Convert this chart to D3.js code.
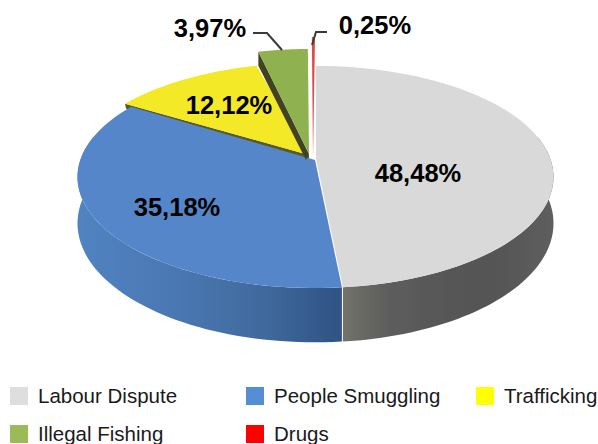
<!DOCTYPE html>
<html>
  <head>
    <meta charset="utf-8" />
    <script src="https://cdn.jsdelivr.net/npm/d3@7"></script>
    <style>
      html, body { margin: 0; padding: 0; background: #fff; }
      text { font-family: "Liberation Sans", Arial, sans-serif; fill: #000; }
      .pct { font-size: 25.5px; font-weight: bold; }
      .leg { font-size: 20.5px; fill: #1a1a1a; }
    </style>
  </head>
  <body>
    <div id="master"></div>
    <script type="text/javascript">
var categories = ["Labour Dispute", "People Smuggling", "Trafficking", "Illegal Fishing", "Drugs"];
var shares = [48.48, 35.18, 12.12, 3.97, 0.25];
var shareLabels = ["48,48%", "35,18%", "12,12%", "3,97%", "0,25%"];
var topColors = ["#d9d9d9", "#5586c9", "#f3e925", "#8fb150", "#e2474a"];
var legendColors = ["#dedede", "#558ed5", "#ffff00", "#9bbb59", "#ff0000"];

var width = 598, height = 444;
var svg = d3.select("#master").append("svg")
  .attr("width", width)
  .attr("height", height)
  .style("display", "block");

// layout of each slice: apex shift, rim shift (the small ones are pulled out)
var apexShift = [[3, 1], [2, 2], [-4, -3], [-4, -4], [0, 0]];
var rimShift = [[3, 0], [2, 0], [-4, -3], [-2, -17], [2, -29]];
var labelPos = [[418, 182], [177, 216], [229, 114], [210, 37], [375, 34]];
var legendPos = [[10, 387], [246, 387], [476, 387], [10, 425], [246, 425]];

// tilted disc, done as a simple perspective of a circle
var cx = 313, cy = 158, R = 234, k = 0.171, yScale = 107.8, depth = 45;

function project(a, shift) {
  var u = Math.sin(a), v = -Math.cos(a);
  var s = 1 / (1 - k * v);
  return [cx + shift[0] + R * u * s, cy + shift[1] + yScale * v * s];
}
function drop(p, a) {
  var s = 1 / (1 + k * Math.cos(a));
  return [p[0], p[1] + depth * s];
}
function rimPoints(a0, a1, shift) {
  return d3.range(0, 61).map(function(i) {
    return project(a0 + (a1 - a0) * i / 60, shift);
  });
}

var line = d3.line();
var pie = d3.pie().sort(null)(shares);

var defs = svg.append("defs");
defs.append("filter").attr("id", "soft")
  .append("feGaussianBlur").attr("stdDeviation", 0.6);

function wallGradient(id, stops) {
  var g = defs.append("linearGradient").attr("id", id)
    .attr("gradientUnits", "userSpaceOnUse")
    .attr("x1", 75).attr("x2", 555).attr("y1", 0).attr("y2", 0);
  stops.forEach(function(s) {
    g.append("stop").attr("offset", s[0]).attr("stop-color", s[1]);
  });
}
wallGradient("wallBlue", [[0, "#5283c2"], [0.2, "#4a78b3"], [0.38, "#416b9f"], [0.55, "#305384"]]);
wallGradient("wallGray", [[0.55, "#74736c"], [0.66, "#5c5c5c"], [0.85, "#545454"], [1, "#5e5e5e"]]);

var chart = svg.append("g").attr("filter", "url(#soft)");

// side walls, only the front half of the disc shows
[[1, "url(#wallBlue)"], [0, "url(#wallGray)"]].forEach(function(w) {
  var d = pie[w[0]];
  var a0 = Math.max(d.startAngle, Math.PI / 2 - 0.2);
  var a1 = Math.min(d.endAngle, Math.PI * 1.5 + 0.2);
  var top = rimPoints(a0, a1, rimShift[w[0]]);
  var bottom = top.map(function(p, i) {
    return drop(p, a0 + (a1 - a0) * i / 60);
  }).reverse();
  chart.append("path")
    .attr("d", line(top.concat(bottom)) + "Z")
    .attr("fill", w[1]);
});

// dark cut face under the yellow slice
var yellowEdge = project(pie[2].startAngle, rimShift[2]);
chart.append("path")
  .attr("d", line([
    yellowEdge,
    [yellowEdge[0] + 1, yellowEdge[1] + 5],
    [cx - 4, cy + 2],
    [cx - 4, cy - 3]
  ]) + "Z")
  .attr("fill", "#5c5a22");

var order = [1, 2, 3, 4, 0];
order.forEach(function(i) {
  var d = pie[i];
  var apex = [cx + apexShift[i][0], cy + apexShift[i][1]];
  var rim = rimPoints(d.startAngle, d.endAngle, rimShift[i]);

  // green slice shows its dark side
  if (i === 3) {
    chart.append("path")
      .attr("d", line([rim[0], [rim[0][0], rim[0][1] + 14], [apex[0] - 3, apex[1] + 6], apex]) + "Z")
      .attr("fill", "#3f4220");
  }

  chart.append("path")
    .attr("d", line([apex].concat(rim)) + "Z")
    .attr("fill", topColors[i]);
});

// leader lines for the two small slices
var leaders = [
  [[253, 33], [267, 33], [282, 50]],
  [[327, 32], [316, 32], [312, 45]]
];
svg.selectAll(".leader")
  .data(leaders)
  .enter()
  .append("path")
    .attr("class", "leader")
    .attr("d", line)
    .attr("fill", "none")
    .attr("stroke", "#3a3a3a")
    .attr("stroke-width", 2);

svg.selectAll(".pct")
  .data(shareLabels)
  .enter()
  .append("text")
    .attr("class", "pct")
    .attr("text-anchor", "middle")
    .attr("x", function(d, i) { return labelPos[i][0]; })
    .attr("y", function(d, i) { return labelPos[i][1]; })
    .text(function(d) { return d; });

var legend = svg.selectAll(".legend")
  .data(categories)
  .enter()
  .append("g")
    .attr("class", "legend")
    .attr("transform", function(d, i) { return "translate(" + legendPos[i] + ")"; });

legend.append("rect")
  .attr("width", 18)
  .attr("height", 18)
  .attr("fill", function(d, i) { return legendColors[i]; });

legend.append("text")
  .attr("class", "leg")
  .attr("x", 28)
  .attr("y", 16)
  .text(function(d) { return d; });
    </script>
  </body>
</html>
